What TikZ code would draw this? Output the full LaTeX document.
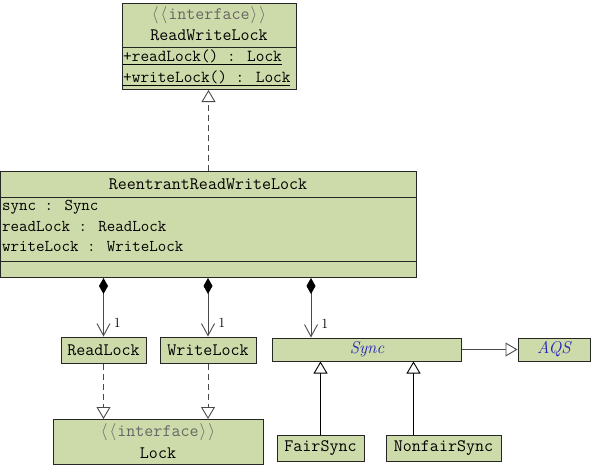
\documentclass[tikz,border=0pt]{standalone}
\usetikzlibrary{arrows.meta,calc}
\definecolor{umlfill}{HTML}{CDDAA9}
\definecolor{umlline}{HTML}{4A4A4A}
\definecolor{umlblue}{HTML}{2222B8}
\newcommand\lguil{\makebox[0.5em]{$\langle$}}
\newcommand\rguil{\makebox[0.5em]{$\rangle$}}
\begin{document}
\begin{tikzpicture}[x=1pt,y=-1pt,
  cls/.style={draw=black!85,fill=umlfill,line width=1pt,inner sep=0pt},
  txt/.style={font=\fontsize{17.5}{20}\selectfont\ttfamily,inner sep=0pt},
  member/.style={font=\fontsize{16.5}{19}\selectfont\ttfamily,inner sep=0pt,anchor=west},
  stereo/.style={txt,text=black!60},
  abstr/.style={font=\fontsize{17}{20}\selectfont\rmfamily\itshape,text=umlblue},
  realize/.style={draw=umlline,line width=0.9pt,dash pattern=on 6pt off 4pt,
    -{Triangle[open,length=12pt,width=14pt,fill=white]}},
  extend/.style={line width=0.9pt,-{Triangle[open,length=12pt,width=14pt,fill=white]}},
  comp/.style={draw=umlline,line width=0.9pt,
    {Diamond[length=16pt,width=9pt,color=black]}-{Straight Barb[length=12pt,width=13pt]}},
  mult/.style={font=\fontsize{14}{16}\selectfont,right,inner sep=0pt,xshift=10pt}]
  \useasboundingbox (0,0) rectangle (591,466);
  % interface ReadWriteLock
  \node[cls,minimum width=174pt,minimum height=86pt,anchor=north west] (rwl) at (122,3) {};
  \draw[black!85] (122,47) -- (296,47);
  \node[stereo] (rwlst) at (209,15) {\lguil\lguil interface\rguil\rguil};
  \node[txt] (rwlname) at (209,35) {ReadWriteLock};
  \node[member,font=\fontsize{16.8}{19}\selectfont\ttfamily] (rwlm1) at (123,57) {\underline{+readLock() : Lock}};
  \node[member,font=\fontsize{16.8}{19}\selectfont\ttfamily] (rwlm2) at (123,78) {\underline{+writeLock() : Lock}};
  % ReentrantReadWriteLock
  \node[cls,minimum width=416pt,minimum height=106pt,anchor=north west] (rrwl) at (0,171) {};
  \draw[black!85] (0,197) -- (416,197);
  \draw[black!85] (0,261) -- (416,261);
  \node[txt] (rrwlname) at (208,184) {ReentrantReadWriteLock};
  \node[member] (rrwla1) at (2,207) {sync : Sync};
  \node[member] (rrwla2) at (2,227) {readLock : ReadLock};
  \node[member] (rrwla3) at (2,247) {writeLock : WriteLock};
  % inner classes
  \node[cls,txt,minimum width=85pt,minimum height=26pt] (rl) at (103.5,350) {ReadLock};
  \node[cls,txt,minimum width=96pt,minimum height=26pt] (wl) at (208,350) {WriteLock};
  \node[cls,abstr,minimum width=189pt,minimum height=23pt] (sync) at (367,349.5) {Sync};
  \node[cls,abstr,minimum width=72pt,minimum height=23pt] (aqs) at (554,349.5) {AQS};
  \node[cls,minimum width=210pt,minimum height=45pt] (lock) at (158,442) {};
  \node[stereo] (lockst) at (158,432) {\lguil\lguil interface\rguil\rguil};
  \node[txt] (lockname) at (158,453) {Lock};
  \node[cls,txt,minimum width=87pt,minimum height=26pt] (fair) at (320.5,448) {FairSync};
  \node[cls,txt,minimum width=115pt,minimum height=26pt] (nonfair) at (443.5,448) {NonfairSync};
  % connectors
  \draw[realize] (rrwl.north) -- (rrwl.north |- rwl.south);
  \draw[comp] (rl.north |- rrwl.south) -- node[mult,pos=0.77] {1} (rl.north);
  \draw[comp] (wl.north |- rrwl.south) -- node[mult,pos=0.77] {1} (wl.north);
  \coordinate (syncin) at ($(sync.north west)+(39,0)$);
  \draw[comp] (syncin |- rrwl.south) -- node[mult,pos=0.77] {1} (syncin);
  \draw[extend,draw=umlline] (sync.east) -- (aqs.west);
  \draw[realize] (rl.south) -- (rl.south |- lock.north);
  \draw[realize] (wl.south) -- (wl.south |- lock.north);
  \draw[extend] (fair.north) -- (fair.north |- sync.south);
  \coordinate (nfout) at ($(nonfair.north west)+(28,0)$);
  \draw[extend] (nfout) -- (nfout |- sync.south);
\end{tikzpicture}
\end{document}
